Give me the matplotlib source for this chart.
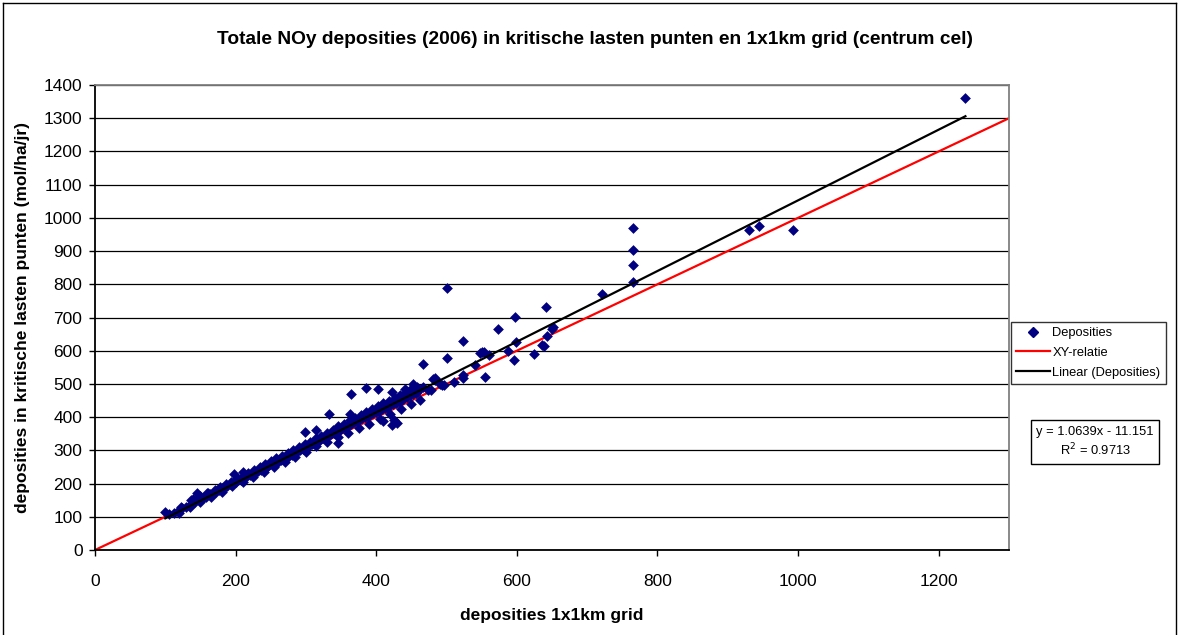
import numpy as np
import matplotlib.pyplot as plt
from matplotlib.lines import Line2D

plt.rcParams['font.family'] = ['Liberation Sans', 'DejaVu Sans']

# ── data: deposities 1x1km grid (x) vs kritische lasten punten (y) ────────────
band_x = [105, 112, 118, 124, 130, 136, 142, 148, 153, 158, 163, 168, 172, 176,
          180, 184, 188, 192, 196, 200, 204, 208, 212, 216, 220, 224, 228, 232,
          236, 240, 244, 248, 252, 256, 260, 264, 268, 272, 276, 280, 284, 288,
          292, 296, 300, 304, 308, 312, 316, 320, 324, 328, 332, 336, 340, 344,
          348, 352, 356, 360, 364, 368, 372, 376, 380, 384, 388, 392, 396, 400,
          404, 408, 412, 416, 420, 424, 428, 432, 436, 440, 444, 448, 452, 456, 460]
band_y = [108, 112, 118, 125, 128, 138, 145, 150, 156, 160, 168, 170, 176, 180,
          186, 188, 192, 198, 200, 206, 210, 212, 218, 222, 226, 230, 232, 238,
          242, 246, 250, 256, 258, 262, 266, 270, 276, 278, 282, 286, 292, 296,
          300, 304, 308, 314, 318, 322, 326, 330, 336, 340, 344, 348, 352, 358,
          362, 366, 370, 374, 378, 384, 388, 392, 396, 400, 404, 408, 412, 416,
          420, 424, 428, 432, 436, 440, 444, 448, 452, 458, 462, 466, 470, 474, 478]

upper_x = [140, 150, 160, 170, 178, 186, 194, 202, 210, 218, 226, 234, 242, 250,
           258, 266, 274, 282, 290, 298, 306, 314, 322, 330, 338, 346, 354, 362,
           370, 378, 386, 394, 402, 410, 418, 426, 434, 442, 450, 458]
upper_y = [155, 162, 172, 182, 190, 200, 206, 216, 224, 232, 240, 250, 258, 268,
           276, 284, 292, 300, 310, 318, 326, 336, 344, 352, 362, 372, 380, 390,
           398, 406, 416, 426, 434, 442, 450, 458, 466, 476, 484, 490]

lower_x = [120, 135, 150, 165, 180, 195, 210, 225, 240, 255, 270, 285, 300, 315,
           330, 345, 360, 375, 390, 405, 420, 435, 450, 462]
lower_y = [112, 128, 144, 160, 176, 192, 206, 220, 236, 250, 266, 280, 296, 312,
           326, 340, 352, 366, 380, 395, 408, 425, 440, 452]

outlier_x = [100, 122, 136, 145, 161, 198, 210, 298, 314, 333, 345, 362, 364,
             386, 402, 423, 422, 430, 425, 410, 467, 467, 474, 478, 483, 483,
             490, 493, 496, 501, 510, 481, 453, 441, 501, 524, 524, 524, 541,
             548, 550, 553, 554, 561, 573, 587, 596, 598, 599, 625, 636, 638,
             641, 643, 650, 652, 721, 765, 765, 765, 765, 930, 945, 993, 1238]
outlier_y = [113, 128, 150, 173, 171, 230, 235, 355, 360, 408, 323, 410, 470,
             488, 485, 475, 375, 382, 392, 388, 561, 490, 482, 482, 512, 519,
             500, 496, 496, 579, 506, 515, 500, 485, 789, 629, 527, 519, 556,
             592, 597, 597, 521, 586, 666, 598, 571, 702, 626, 591, 617, 613,
             731, 643, 666, 670, 772, 808, 859, 904, 968, 962, 975, 963, 1361]

xs = np.array(band_x + upper_x + lower_x + outlier_x, dtype=float)
ys = np.array(band_y + upper_y + lower_y + outlier_y, dtype=float)

slope, intercept = 1.0639, -11.151

# ── figure ────────────────────────────────────────────────────────────────────
fig = plt.figure(figsize=(11.79, 6.35), dpi=100)
ax = fig.add_axes([95 / 1179, 1 - 550 / 635, (1009 - 95) / 1179, (550 - 85) / 635])

ax.set_xlim(0, 1300)
ax.set_ylim(0, 1400)
ax.set_xticks(np.arange(0, 1201, 200))
ax.set_yticks(np.arange(0, 1401, 100))
ax.yaxis.grid(True, color="black", linewidth=0.9)
ax.set_axisbelow(True)

ax.plot([0, 1300], [0, 1300], color="red", linewidth=1.6, zorder=2)
ax.scatter(xs, ys, marker="D", s=30, color="#000080", linewidths=0, zorder=3)
tx = np.array([xs.min(), xs.max()])
ax.plot(tx, slope * tx + intercept, color="black", linewidth=1.6, zorder=4)

for s in ("left", "bottom"):
    ax.spines[s].set_color("black")
    ax.spines[s].set_linewidth(1.3)
for s in ("top", "right"):
    ax.spines[s].set_color("#808080")
    ax.spines[s].set_linewidth(1.3)

ax.tick_params(axis="both", direction="out", length=4, width=1, labelsize=12.5, pad=5)
ax.tick_params(axis="x", pad=13)

ax.set_xlabel("deposities 1x1km grid", fontsize=12.5, fontweight="bold", labelpad=14)
ax.set_ylabel("deposities in kritische lasten punten (mol/ha/jr)", fontsize=12.5,
              fontweight="bold", labelpad=10)
fig.text(0.505, 1 - 40 / 635, "Totale NOy deposities (2006) in kritische lasten punten en 1x1km grid (centrum cel)",
         ha="center", va="center", fontsize=13.8, fontweight="bold")

handles = [
    Line2D([], [], marker="D", color="#000080", linestyle="none", markersize=5),
    Line2D([], [], color="red", linewidth=1.6),
    Line2D([], [], color="black", linewidth=1.6),
]
leg = fig.legend(handles, ["Deposities", "XY-relatie", "Linear (Deposities)"],
                 loc="upper left", bbox_to_anchor=(1011 / 1179, 1 - 322 / 635),
                 fontsize=9.3, frameon=True, fancybox=False, edgecolor="black",
                 handlelength=2.6, handletextpad=0.2, borderpad=0.4, labelspacing=0.6,
                 borderaxespad=0)
leg.get_frame().set_linewidth(1)

fig.text(1095 / 1179, 1 - 442 / 635, "y = 1.0639x - 11.151\nR$^2$ = 0.9713",
         ha="center", va="center", fontsize=9.3, linespacing=1.3,
         bbox=dict(boxstyle="square,pad=0.4", facecolor="white", edgecolor="black", linewidth=1))

# outer chart frame
for xy in (([3, 3], [0, 632]), ([3, 1176], [632, 632]), ([1176, 1176], [0, 632])):
    fig.add_artist(Line2D(np.array(xy[0]) / 1179, np.array(xy[1]) / 635,
                          color="black", linewidth=1))

fig.savefig("out.png", dpi=100)
